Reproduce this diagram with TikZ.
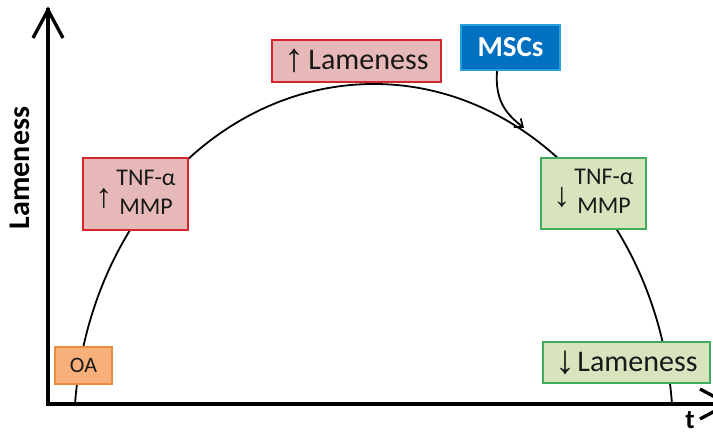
\documentclass[tikz,border=0pt]{standalone}
\usepackage{fontspec}
\setmainfont{Carlito}
\newfontfamily\arrowfont{Liberation Sans}
\usetikzlibrary{arrows.meta}
\definecolor{redfill}{RGB}{230,185,184}
\definecolor{redline}{RGB}{214,38,44}
\definecolor{greenfill}{RGB}{215,228,189}
\definecolor{greenline}{RGB}{62,172,88}
\definecolor{orangefill}{RGB}{247,176,122}
\definecolor{orangeline}{RGB}{232,142,62}
\definecolor{bluefill}{RGB}{0,112,192}
\definecolor{blueline}{RGB}{40,160,222}
\definecolor{txt}{RGB}{25,25,25}
\tikzset{
  box/.style={draw, line width=2.4pt, inner sep=0pt, text=txt, align=center},
  redbox/.style={box, fill=redfill, draw=redline},
  greenbox/.style={box, fill=greenfill, draw=greenline},
  orangebox/.style={box, fill=orangefill, draw=orangeline, line width=2pt},
  bluebox/.style={box, fill=bluefill, draw=blueline, text=white, line width=2pt},
  axisline/.style={line width=3.3pt, black},
  curve/.style={line width=1.8pt, black},
}
\newcommand{\arr}[3]{{\arrowfont\fontsize{#1}{#1}\selectfont\raisebox{#3}{#2}}}
\begin{document}
\begin{tikzpicture}[x=1pt,y=1pt]
\useasboundingbox (0,0) rectangle (713,435);
% axes
\coordinate (ytip) at (48,425);
\coordinate (xtip) at (728,31);
\draw[axisline, line cap=rect] (ytip) -- (48,31) -- (xtip);
\draw[axisline, miter limit=10] (33,397) -- (ytip) -- (63,397);
\draw[axisline, miter limit=10] (700,46) -- (xtip) -- (700,16);
% curve
\draw[curve] (672,31) arc[start angle=4.92, end angle=175.08, x radius=299.6, y radius=350];
% labels
\node[rotate=90, font=\fontsize{30}{32}\selectfont\bfseries] (ylab) at (20,267) {Lameness};
\node[font=\fontsize{27}{30}\selectfont\bfseries] (tlab) at (690,15) {t};
% boxes
\node[orangebox, minimum width=57pt, minimum height=37pt, font=\fontsize{22}{24}\selectfont] (oa) at (83.5,69.5) {OA};
\node[redbox, minimum width=105pt, minimum height=72pt, font=\fontsize{24}{29}\selectfont] (tnfup) at (135.5,241)
  {\arr{34}{↑}{-7pt}\hspace{4pt}\begin{tabular}{@{}c@{}}TNF-α\\MMP\end{tabular}};
\node[redbox, minimum width=169pt, minimum height=42pt, font=\fontsize{30}{32}\selectfont] (lameup) at (356.5,374)
  {\arr{40}{↑}{-2pt}\hspace{4pt}Lameness};
\node[bluebox, minimum width=99pt, minimum height=45pt, font=\fontsize{29}{30}\selectfont\bfseries] (msc) at (510.5,387.5) {MSCs};
\node[greenbox, minimum width=105pt, minimum height=71pt, font=\fontsize{24}{29}\selectfont] (tnfdown) at (593.5,241.5)
  {\arr{34}{↓}{-7pt}\hspace{4pt}\begin{tabular}{@{}c@{}}TNF-α\\MMP\end{tabular}};
\node[greenbox, minimum width=167pt, minimum height=41pt, font=\fontsize{30}{32}\selectfont] (lamedown) at (626.5,72.5)
  {\arr{40}{↓}{-2pt}\hspace{2pt}Lameness};
% MSC arrow
\coordinate (mscend) at (524,307);
\draw[line width=1.8pt, -{Straight Barb[length=7pt,width=11pt]}] ([xshift=-13.5pt]msc.south) .. controls (495,335) and (505,322) .. (mscend);
\end{tikzpicture}
\end{document}
